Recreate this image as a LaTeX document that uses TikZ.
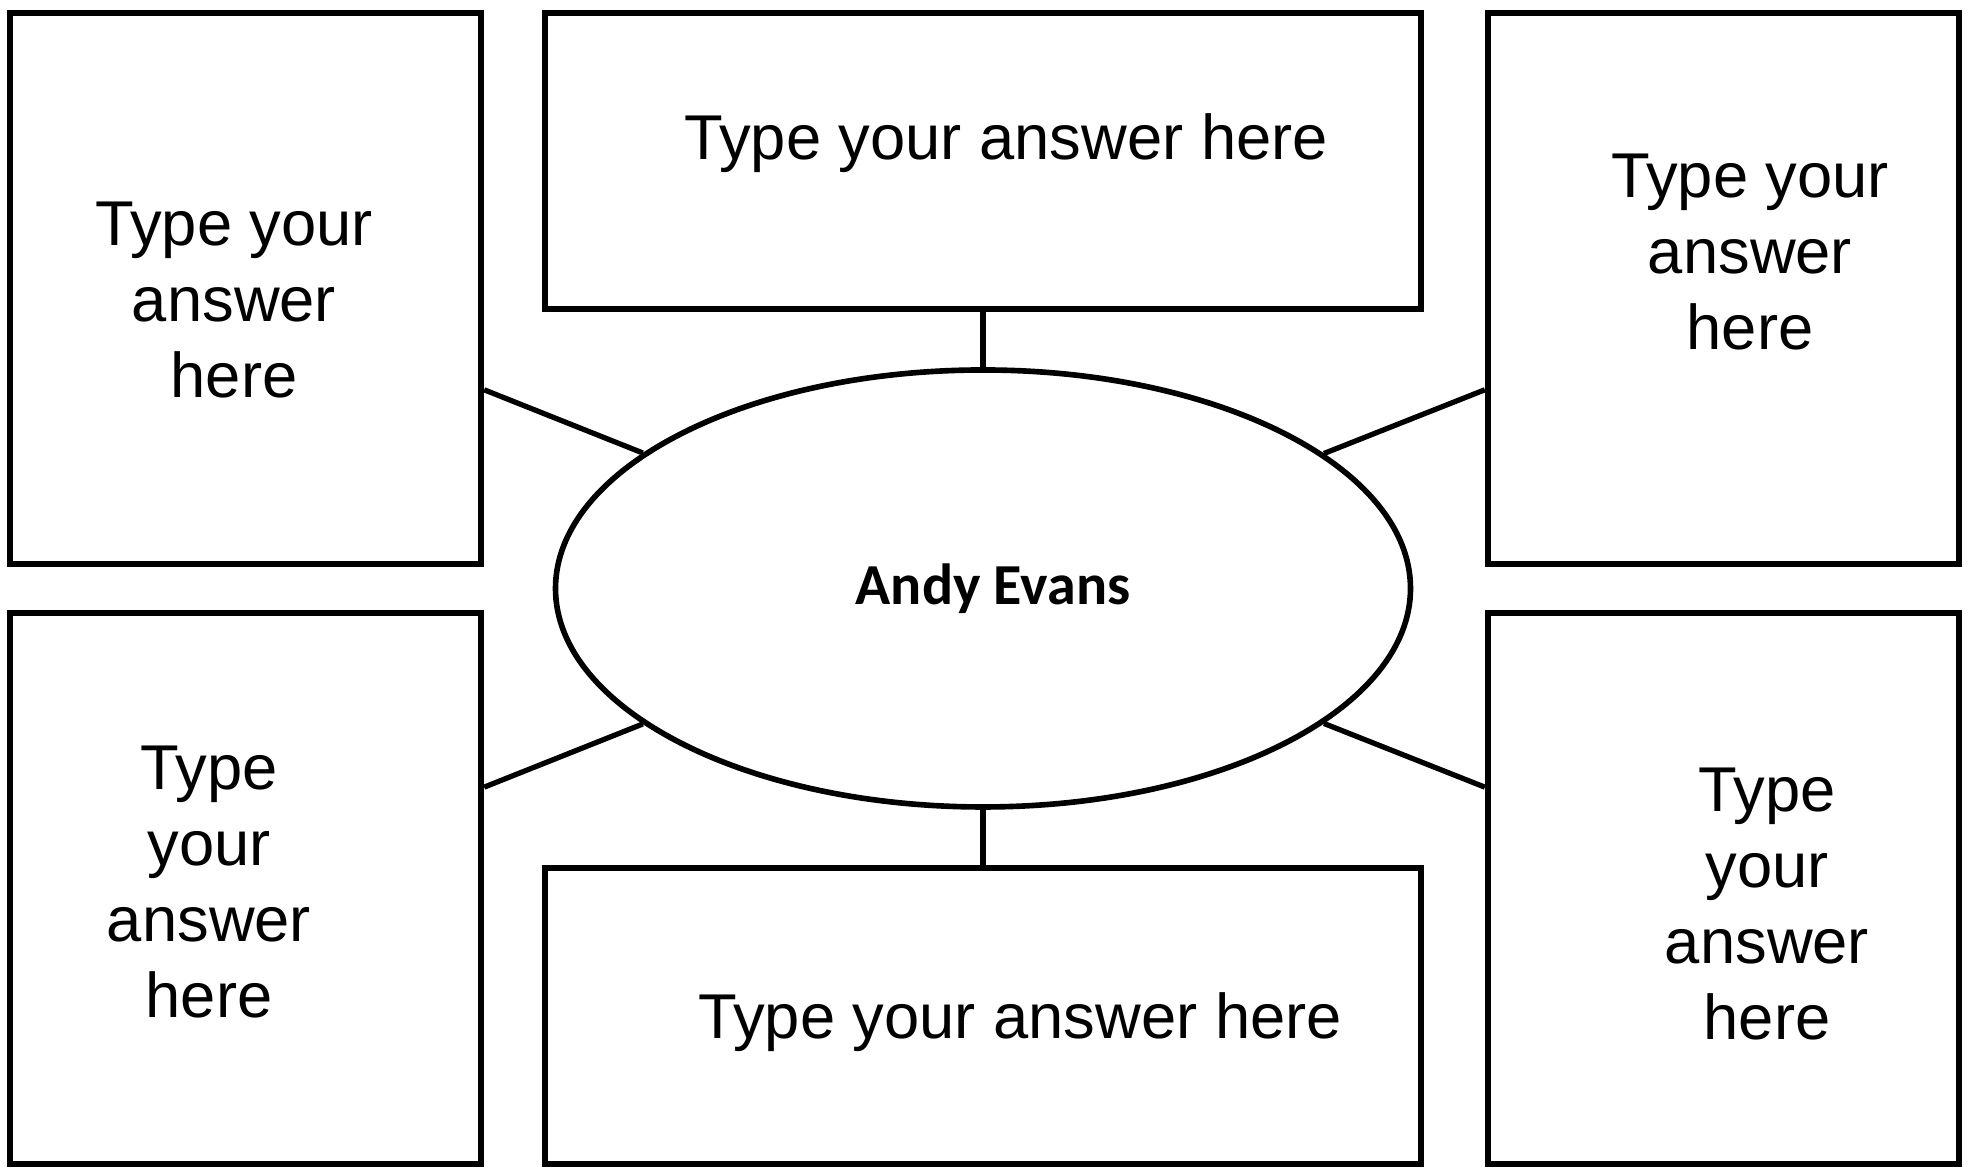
\documentclass[tikz,border=0pt]{standalone}
\usepackage{fontspec}
\setmainfont{Liberation Sans}
\newfontfamily\namefont{Carlito}
\usetikzlibrary{shapes.geometric}
\newcommand{\px}{0.01cm}

\begin{document}
\begin{tikzpicture}[x=\px, y=\px,
    box/.style={draw, rectangle, line width=1.8pt, inner sep=0pt, minimum width=471*\px, minimum height=551*\px},
    wide/.style={box, minimum width=876*\px, minimum height=296*\px},
    answer/.style={align=center, inner sep=0pt, font=\fontsize{18}{21.6}\selectfont},
    spoke/.style={line width=1.5pt}]
    \path[use as bounding box, fill=white] (0,0) rectangle (1975,1168);

    % Boxes
    \node[box] (tl) at (245.5,879.5) {};
    \node[wide] (top) at (983,1007) {};
    \node[box] (tr) at (1723.5,879.5) {};
    \node[box] (bl) at (245.5,279.5) {};
    \node[wide] (bottom) at (983,152) {};
    \node[box] (br) at (1723.5,279.5) {};

    % Centre
    \node[draw, ellipse, line width=1.6pt, inner sep=0pt, minimum width=855*\px, minimum height=437*\px] (ell) at (983,579.5) {};
    \node[font=\namefont\bfseries\fontsize{16.5}{20}\selectfont, inner sep=0pt] (name) at (993,579.5) {Andy Evans};

    % Texts
    \node[answer] (tl-text) at (234,868) {Type your\\answer\\here};
    \node[answer, anchor=base] (top-text) at (1006,1008) {Type your answer here};
    \node[answer] (tr-text) at (1750,916) {Type your\\answer\\here};
    \node[answer] (bl-text) at (209,286) {Type\\your\\answer\\here};
    \node[answer, anchor=base] (bottom-text) at (1020,129) {Type your answer here};
    \node[answer] (br-text) at (1767,264) {Type\\your\\answer\\here};

    % Spokes
    \draw[spoke] (top) -- (ell);
    \draw[spoke] (bottom) -- (ell);
    \draw[spoke] (tl.-23) -- (ell);
    \draw[spoke] (tr.203) -- (ell);
    \draw[spoke] (bl.23) -- (ell);
    \draw[spoke] (br.157) -- (ell);
\end{tikzpicture}
\end{document}
